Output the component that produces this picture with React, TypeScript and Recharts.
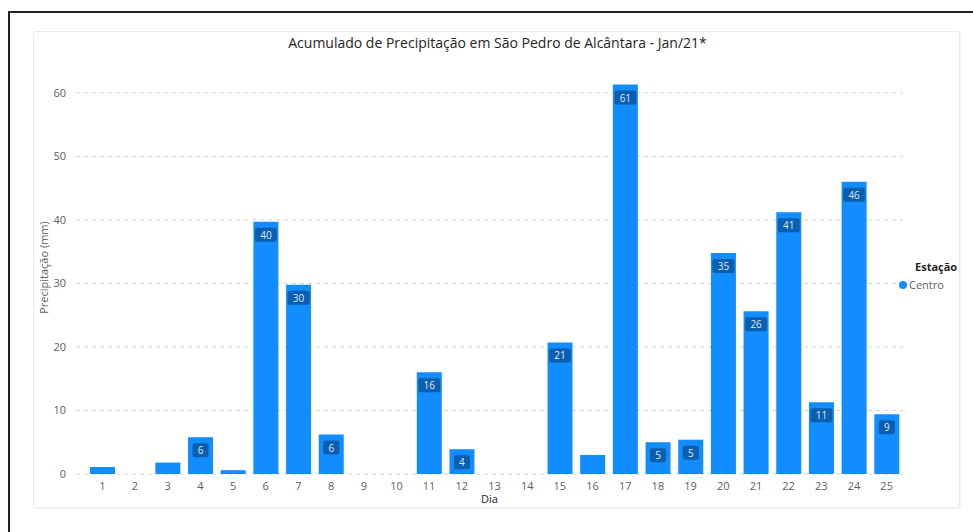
import {
  BarChart,
  Bar,
  XAxis,
  YAxis,
  CartesianGrid,
  LabelList,
} from "recharts";

// dias do mês
const days = [
  "1", "2", "3", "4", "5", "6", "7", "8", "9", "10", "11", "12", "13",
  "14", "15", "16", "17", "18", "19", "20", "21", "22", "23", "24", "25",
];

// precipitação (mm) - estação Centro
const centro = [
  1.1, 0, 1.8, 5.8, 0.6, 39.7, 29.8, 6.2, 0, 0, 16.0, 3.9, 0, 0, 20.7, 3.0,
  61.3, 5.0, 5.4, 34.8, 25.6, 41.2, 11.3, 46.0, 9.4,
];

const yTicks = [0, 10, 20, 30, 40, 50, 60];

const data = days.map((dia, i) => ({ dia, centro: centro[i] }));

const FONT = "'Open Sans', 'Noto Sans', sans-serif";

// rótulo escuro dentro da barra (só quando cabe)
const BarValueLabel = (props: any) => {
  const { x, y, width, value } = props;
  if (value == null || value < 3.5) return null;
  const text = String(Math.round(value));
  const w = text.length > 1 ? 22 : 16;
  const cx = x + width / 2;
  return (
    <g>
      <rect
        x={cx - w / 2}
        y={y + 6}
        width={w}
        height={14}
        rx={2}
        fill="#0c5fae"
      />
      <text
        x={cx}
        y={y + 13}
        textAnchor="middle"
        dominantBaseline="central"
        fill="#dbe9f8"
        fontSize={10}
        fontFamily={FONT}
      >
        {text}
      </text>
    </g>
  );
};

export default function App() {
  return (
    <div
      style={{
        position: "fixed",
        left: 0,
        top: 0,
        width: 973,
        height: 532,
        background: "#fff",
        overflow: "hidden",
      }}
    >
      {/* moldura preta */}
      <div
        style={{
          position: "absolute",
          left: 8,
          top: 11,
          width: 980,
          height: 540,
          borderTop: "2px solid #222",
          borderLeft: "2px solid #222",
        }}
      />
      {/* cartão */}
      <div
        style={{
          position: "absolute",
          left: 33,
          top: 31,
          width: 925,
          height: 475,
          border: "1px solid #ebebeb",
          borderRadius: 2,
          boxShadow: "1px 1px 2px rgba(0,0,0,0.06)",
        }}
      />
      <div
        style={{
          position: "absolute",
          left: 0,
          top: 33,
          width: 995,
          textAlign: "center",
          fontFamily: FONT,
          fontSize: 14,
          color: "#252423",
        }}
      >
        Acumulado de Precipitação em São Pedro de Alcântara - Jan/21*
      </div>
      <div style={{ position: "absolute", left: 0, top: 0 }}>
        <BarChart
          width={973}
          height={532}
          data={data}
          margin={{ top: 61, right: 70, bottom: 28, left: 36 }}
          barSize={25}
        >
          <CartesianGrid
            horizontal
            vertical={false}
            syncWithTicks
            stroke="#d4d4d4"
            strokeDasharray="4 4"
          />
          <XAxis
            dataKey="dia"
            height={30}
            axisLine={false}
            tickLine={false}
            tickSize={0}
            tickMargin={8}
            interval={0}
            padding={{ left: 10, right: 0 }}
            tick={{ fill: "#605e5c", fontSize: 11, fontFamily: FONT }}
            label={{
              value: "Dia",
              position: "insideBottom",
              offset: 1,
              fill: "#252423",
              fontSize: 11,
              fontFamily: FONT,
            }}
          />
          <YAxis
            width={40}
            domain={[0, 65]}
            ticks={yTicks}
            axisLine={false}
            tickLine={false}
            tickSize={0}
            tickMargin={10}
            tick={{ fill: "#605e5c", fontSize: 11, fontFamily: FONT }}
            label={{
              value: "Precipitação (mm)",
              angle: -90,
              position: "insideLeft",
              offset: 8,
              style: { textAnchor: "middle" },
              fill: "#605e5c",
              fontSize: 11,
              fontFamily: FONT,
            }}
          />
          <Bar
            dataKey="centro"
            name="Centro"
            fill="#118dff"
            isAnimationActive={false}
          >
            <LabelList dataKey="centro" content={<BarValueLabel />} />
          </Bar>
        </BarChart>
      </div>
      {/* legenda */}
      <div
        style={{
          position: "absolute",
          left: 899,
          top: 259,
          fontFamily: FONT,
          fontSize: 11,
          color: "#252423",
        }}
      >
        <div style={{ fontWeight: 700, marginLeft: 16, marginBottom: 3 }}>Estação</div>
        <div style={{ display: "flex", alignItems: "center" }}>
          <span
            style={{
              display: "inline-block",
              width: 8,
              height: 8,
              borderRadius: 4,
              background: "#118dff",
              marginRight: 2,
            }}
          />
          <span style={{ color: "#605e5c" }}>Centro</span>
        </div>
      </div>
    </div>
  );
}
